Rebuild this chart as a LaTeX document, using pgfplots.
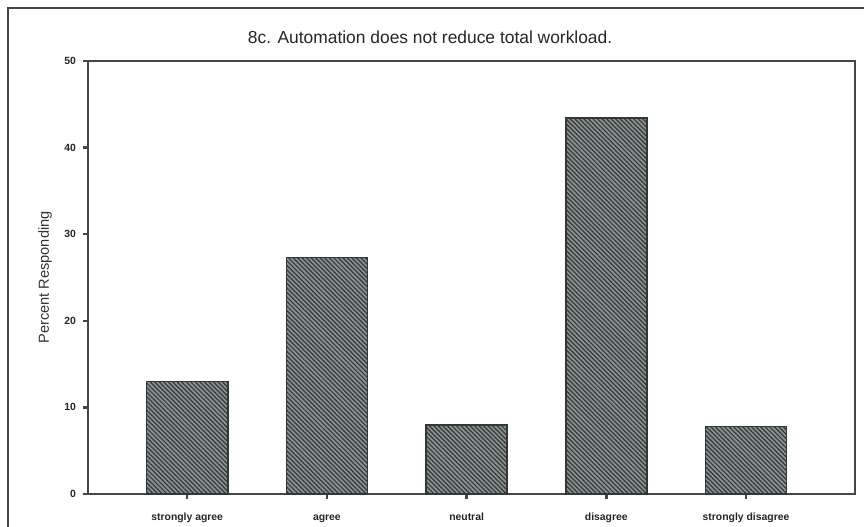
\documentclass[border=0pt]{standalone}
\usepackage{pgfplots}
\pgfplotsset{compat=1.18}
\usepackage{fontspec}
\setmainfont{Liberation Sans}
\usetikzlibrary{patterns.meta}

\definecolor{barfill}{RGB}{140,145,145}
\definecolor{hatch}{RGB}{50,55,55}
\definecolor{axisgray}{RGB}{70,70,70}

\begin{document}
\begin{tikzpicture}
\clip (0,0) rectangle (432pt,263pt);
\fill[white] (0,0) rectangle (432pt,263pt);
\draw[line width=1pt, axisgray] (4pt,-10pt) rectangle (445pt,259pt);
\begin{axis}[
    at={(44pt,16pt)}, anchor=south west,
    scale only axis,
    width=383.5pt, height=216.5pt,
    xmin=-0.71, xmax=4.78,
    ymin=0, ymax=50,
    ytick={0,10,...,50},
    xtick=data,
    xticklabels={strongly agree, agree, neutral, disagree, strongly disagree},
    /pgf/number format/assume math mode=true,
    tick label style={font=\fontsize{5.2}{6}\selectfont\bfseries, color=black!85},
    xticklabel style={text height=1.4ex, text depth=0.35ex},
    tick align=outside,
    major tick length=2.5pt,
    tick style={line width=1.2pt, axisgray},
    xtick pos=bottom, ytick pos=left,
    axis line style={line width=0.9pt, axisgray},
    ylabel={Percent Responding},
    ylabel style={font=\fontsize{7.3}{9}\selectfont, at={(axis description cs:-0.056,0.5)}, anchor=center, color=black!80},
    title={8c. Automation does not reduce total workload.},
    title style={font=\fontsize{8.7}{10}\selectfont, at={(axis description cs:0.446,1)}, anchor=center, yshift=5.75pt, color=black!85},
    ybar, bar width=0.58, bar shift=0pt,
]
\addplot[draw=hatch, line width=0.8pt, fill=barfill,
    postaction={pattern={Lines[angle=-45, distance=1.6pt, line width=0.6pt]}, pattern color=hatch}]
    coordinates {(0,13.0) (1,27.3) (2,8.0) (3,43.4) (4,7.8)};
\end{axis}
\end{tikzpicture}
\end{document}
